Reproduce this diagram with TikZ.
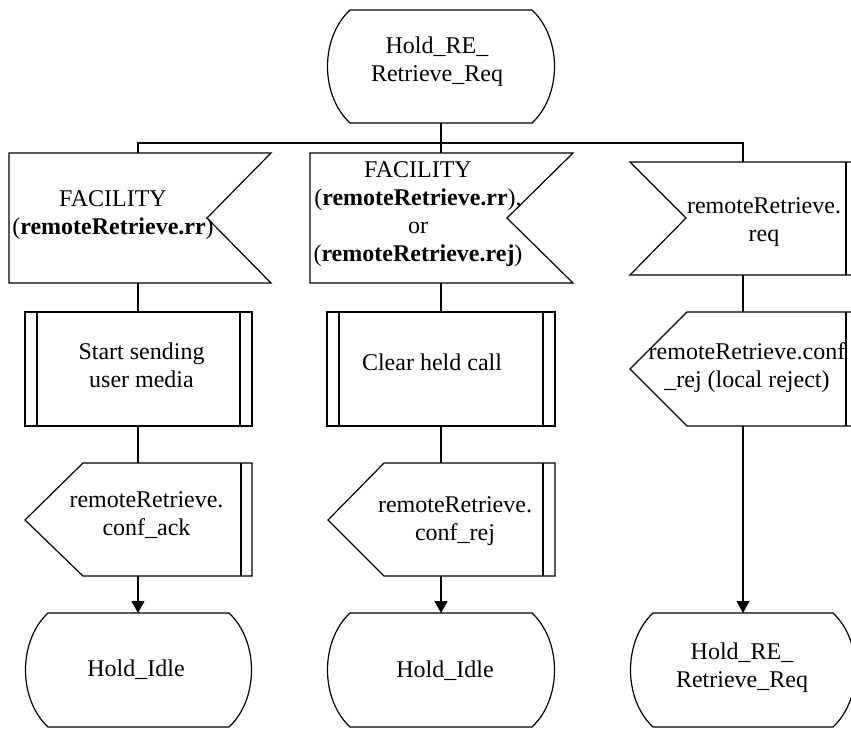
\documentclass[tikz,border=0pt]{standalone}
\usepackage{fontspec}
\setmainfont{Liberation Serif}
\usetikzlibrary{arrows.meta}
\begin{document}
\begin{tikzpicture}[x=0.5pt,y=-0.5pt,
  shp/.style={draw=black,line width=0.6pt,line join=miter},
  bar/.style={draw=black,line width=1.1pt},
  conn/.style={draw=black,line width=0.6pt},
  connb/.style={draw=black,line width=0.9pt},
  arr/.style={-{Triangle[width=6.5pt,length=6pt]}},
  txt/.style={align=center,inner sep=0pt,font=\fontsize{12}{14}\selectfont}]
\useasboundingbox (0,0) rectangle (851,729);
\clip (0,0) rectangle (851,729);

% ---------- top state ----------
\draw[shp] (350,10) -- (532,10) .. controls (562,38) and (562,95) .. (532,123)
  -- (350,123) .. controls (320,95) and (320,38) .. (350,10) -- cycle;
\node[txt] (t0) at (437,62) {Hold\_RE\_\\Retrieve\_Req};
\coordinate (s0s) at (441,123);
\coordinate (j) at (441,143);

% ---------- column 1 ----------
\draw[shp] (9,153) -- (271,153) -- (207,218) -- (271,283) -- (9,283) -- cycle;
\node[txt] (ti1) at (113,215) {FACILITY\\(\textbf{remoteRetrieve.rr})};
\coordinate (i1n) at (138,153);
\coordinate (i1s) at (138,283);

\draw[shp] (25,312) rectangle (252,426);
\draw[bar] (37,312) -- (37,426);
\draw[bar] (240,312) -- (240,426);
\node[txt] (tp1) at (141.5,365) {Start sending\\user media};
\coordinate (p1n) at (138,312);
\coordinate (p1s) at (138,426);

\draw[shp] (83,463) -- (252,463) -- (252,576) -- (83,576) -- (25,520) -- cycle;
\draw[bar] (241,463) -- (241,576);
\node[txt] (to1) at (146.5,515) {remoteRetrieve.\\conf\_ack};
\coordinate (o1n) at (138,463);
\coordinate (o1s) at (138,576);

\draw[shp] (48,613) -- (229,613) .. controls (259,641) and (259,699) .. (229,727)
  -- (48,727) .. controls (18,699) and (18,641) .. (48,613) -- cycle;
\node[txt] (ts1) at (136,670) {Hold\_Idle};
\coordinate (st1n) at (138,613);

% ---------- column 2 ----------
\draw[shp] (310,153) -- (573,153) -- (507,218) -- (573,283) -- (310,283) -- cycle;
\node[txt] (ti2) at (418,214.5) {FACILITY\\(\textbf{remoteRetrieve.rr}),\\or\\(\textbf{remoteRetrieve.rej})};
\coordinate (i2n) at (441,153);
\coordinate (i2s) at (441,283);

\draw[shp] (327,312) rectangle (555,426);
\draw[bar] (339,312) -- (339,426);
\draw[bar] (543,312) -- (543,426);
\node[txt] (tp2) at (432,362) {Clear held call};
\coordinate (p2n) at (441,312);
\coordinate (p2s) at (441,426);

\draw[shp] (384,463) -- (555,463) -- (555,576) -- (384,576) -- (328,520) -- cycle;
\draw[bar] (543,463) -- (543,576);
\node[txt] (to2) at (455,521) {remoteRetrieve.\\conf\_rej};
\coordinate (o2n) at (441,463);
\coordinate (o2s) at (441,576);

\draw[shp] (350,613) -- (532,613) .. controls (562,641) and (562,699) .. (532,727)
  -- (350,727) .. controls (320,699) and (320,641) .. (350,613) -- cycle;
\node[txt] (ts2) at (445,671) {Hold\_Idle};
\coordinate (st2n) at (441,613);

% ---------- column 3 ----------
\draw[shp] (630,162) -- (686,218) -- (630,275) -- (858,275) -- (858,162) -- cycle;
\draw[bar] (846,162) -- (846,275);
\node[txt] (ti3) at (764,222) {remoteRetrieve.\\req};
\coordinate (i3n) at (743,162);
\coordinate (i3s) at (743,275);

\draw[shp] (687,312) -- (858,312) -- (858,426) -- (687,426) -- (630,369) -- cycle;
\draw[bar] (846,312) -- (846,426);
\node[txt] (to3) at (747,368) {remoteRetrieve.conf\\\_rej (local reject)};
\coordinate (o3n) at (743,312);
\coordinate (o3s) at (743,426);

\draw[shp] (653,613) -- (833,613) .. controls (863,641) and (863,699) .. (833,727)
  -- (653,727) .. controls (623,699) and (623,641) .. (653,613) -- cycle;
\node[txt] (ts3) at (742,668) {Hold\_RE\_\\Retrieve\_Req};
\coordinate (st3n) at (743,613);

% ---------- connectors ----------
\draw[connb] (s0s) -- (j);
\draw[conn] (i1n) |- (j) -| (i3n);
\draw[connb] (j) -- (i2n);

\draw[conn] (i1s) -- (p1n);
\draw[conn] (p1s) -- (o1n);
\draw[conn,arr] (o1s) -- (st1n);

\draw[connb] (i2s) -- (p2n);
\draw[connb] (p2s) -- (o2n);
\draw[connb,arr] (o2s) -- (st2n);

\draw[conn] (i3s) -- (o3n);
\draw[conn,arr] (o3s) -- (st3n);
\end{tikzpicture}
\end{document}
